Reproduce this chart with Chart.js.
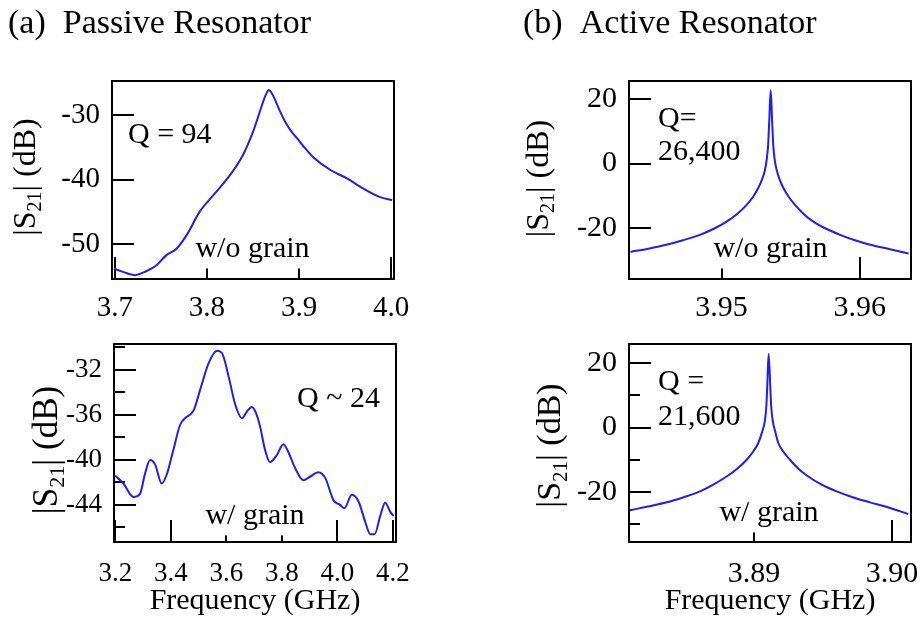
<!DOCTYPE html>
<html><head><meta charset="utf-8">
<script src="https://cdn.jsdelivr.net/npm/chart.js@4/dist/chart.umd.min.js"></script>
<style>
html,body{margin:0;padding:0;background:#fff;}
body{width:920px;height:623px;position:relative;overflow:hidden;}
canvas{position:absolute;}
</style></head><body>
<canvas id="cA" width="420" height="335" style="left:0;top:0"></canvas>
<canvas id="cB" width="420" height="335" style="left:500px;top:0"></canvas>
<canvas id="cC" width="420" height="288" style="left:0;top:335px"></canvas>
<canvas id="cD" width="420" height="288" style="left:500px;top:335px"></canvas>
<script>
// ---------- data ----------
// (a) passive resonator, w/o grain
const passiveNoGrainFreq = [3.699,3.709,3.722,3.734,3.745,3.756,3.767,3.778,3.792,3.807,3.825,3.839,3.850,3.858,3.862,3.865,3.867,3.869,3.872,3.876,3.880,3.886,3.892,3.898,3.907,3.916,3.934,3.952,3.970,3.988,4.001];
const passiveNoGrainDb   = [-53.8,-54.3,-54.8,-54.2,-53.3,-51.7,-50.7,-48.6,-45.0,-42.4,-39.3,-36.2,-32.6,-29.2,-27.5,-26.5,-26.1,-26.3,-27.0,-28.3,-29.6,-31.3,-32.6,-33.6,-35.2,-36.6,-38.5,-39.8,-41.4,-42.7,-43.2];
// (a) passive resonator, w/ grain
const passiveGrainFreq = [3.199,3.229,3.265,3.289,3.307,3.325,3.343,3.367,3.385,3.409,3.433,3.451,3.482,3.505,3.536,3.566,3.584,3.608,3.632,3.656,3.674,3.692,3.706,3.721,3.739,3.757,3.781,3.805,3.823,3.847,3.877,3.901,3.931,3.956,3.986,4.010,4.025,4.052,4.076,4.100,4.118,4.134,4.154,4.172,4.190,4.202];
const passiveGrainDb   = [-41.4,-42.1,-43.3,-43.0,-41.2,-40.0,-40.4,-42.1,-41.3,-39.1,-36.9,-36.3,-35.6,-33.8,-31.4,-30.3,-30.5,-32.6,-35.1,-36.3,-35.7,-35.3,-35.8,-37.0,-39.1,-40.2,-39.6,-38.6,-39.3,-40.7,-41.8,-41.5,-41.1,-41.6,-43.6,-44.0,-44.3,-43.1,-43.7,-45.5,-46.6,-46.6,-45.0,-43.8,-44.6,-45.0];
// (b) active resonator, w/o grain
const activeNoGrainFreq = [3.94341,3.94470,3.94601,3.94720,3.94843,3.94940,3.95036,3.95110,3.95181,3.95228,3.95265,3.95292,3.95314,3.95326,3.95336,3.95345,3.95355,3.95365,3.95374,3.95384,3.95398,3.95420,3.95447,3.95485,3.95531,3.95595,3.95664,3.95760,3.95857,3.95965,3.96075,3.96210,3.96352];
const activeNoGrainDb   = [-27.4,-26.4,-25.2,-23.8,-22.1,-20.3,-18.0,-15.7,-12.8,-10.3,-7.6,-5.0,-1.9,1.2,5.5,13.6,22.7,13.6,5.5,1.2,-1.9,-5.0,-7.6,-10.3,-12.8,-15.7,-18.0,-20.3,-22.1,-23.8,-25.2,-26.5,-27.9];
// (b) active resonator, w/ grain
const activeGrainFreq = [3.88096,3.88230,3.88367,3.88490,3.88609,3.88705,3.88802,3.88878,3.88947,3.88993,3.89031,3.89058,3.89080,3.89090,3.89096,3.89106,3.89118,3.89124,3.89135,3.89155,3.89176,3.89213,3.89261,3.89322,3.89393,3.89490,3.89599,3.89715,3.89841,3.89980,3.90118];
const activeGrainDb   = [-25.7,-24.5,-23.2,-21.6,-19.8,-17.7,-15.2,-12.8,-10.0,-7.5,-4.8,-1.5,2.4,7.0,12.7,22.8,12.7,7.0,2.4,-1.5,-4.8,-7.5,-10.0,-12.8,-15.2,-17.7,-19.8,-21.6,-23.2,-24.9,-26.8];

// tick values
const xTicksA = [3.7,3.8,3.9,4.0];
const yTicksA = [-50,-40,-30];
const xTicksC = [3.2,3.4,3.6,3.8,4.0,4.2];
const yTicksC = [-44,-40,-36,-32];
const yMinorC = [-46,-42,-38,-34,-30];
const xTicksB = [3.95,3.96];
const yTicksB = [-20,0,20];
const xTicksD = [3.89,3.90];
const yTicksD = [-20,0,20];
const yMinorD = [-30,-10,10];

// ---------- drawing ----------
const FONT = '"Liberation Serif","Times New Roman",serif';
const BLUE = 'rgb(30,30,240)';
Chart.defaults.font.family = FONT;
Chart.defaults.color = '#000';

function panelPlugin(cfg){
  return {
    id:'panel_'+cfg.id,
    beforeDatasetsDraw(chart){
      const ctx=chart.ctx, ca=chart.chartArea, xs=chart.scales.x, ys=chart.scales.y;
      ctx.save();
      ctx.strokeStyle='#000'; ctx.lineWidth=2; ctx.lineCap='butt';
      const seg=(a,b,c,d)=>{ctx.beginPath();ctx.moveTo(a,b);ctx.lineTo(c,d);ctx.stroke();};
      cfg.xTicks.forEach(v=>{const p=Math.round(xs.getPixelForValue(v));seg(p,ca.bottom,p,ca.bottom-22);});
      cfg.yTicks.forEach(v=>{const p=Math.round(ys.getPixelForValue(v));seg(ca.left,p,ca.left+22,p);});
      (cfg.yMinor||[]).forEach(v=>{const p=Math.round(ys.getPixelForValue(v));seg(ca.left,p,ca.left+11,p);});
      cfg.notes.forEach(n=>{
        ctx.font = n.size+'px '+FONT;
        ctx.textBaseline='alphabetic'; ctx.textAlign='left';
        const w=ctx.measureText(n.text).width;
        const x = n.center ? n.x - w/2 : n.x;
        ctx.fillStyle='#fff';
        ctx.fillRect(x-1, n.y-n.size*0.8, w+2, n.size*1.18);
        ctx.fillStyle='#000';
        ctx.fillText(n.text, x, n.y);
      });
      ctx.restore();
    },
    afterDatasetsDraw(chart){
      const ctx=chart.ctx, ca=chart.chartArea;
      ctx.save(); ctx.strokeStyle='#000'; ctx.lineWidth=2;
      ctx.strokeRect(ca.left, ca.top, ca.right-ca.left, ca.bottom-ca.top);
      ctx.restore();
    },
    afterDraw(chart){
      const ctx=chart.ctx;
      ctx.save();
      const F=cfg.yTitle.size, fs=Math.round(F*0.62);
      const parts=[{t:'|S',s:F,dy:0},{t:'21',s:fs,dy:F*0.2},{t:'| (dB)',s:F,dy:0}];
      let total=0;
      parts.forEach(p=>{ctx.font=p.s+'px '+FONT; p.w=ctx.measureText(p.t).width; total+=p.w;});
      ctx.translate(cfg.yTitle.cx + 0.235*F, cfg.yTitle.cy);
      ctx.rotate(-Math.PI/2);
      ctx.fillStyle='#000'; ctx.textBaseline='alphabetic'; ctx.textAlign='left';
      let x=-total/2;
      parts.forEach(p=>{ctx.font=p.s+'px '+FONT; ctx.fillText(p.t,x,p.dy); x+=p.w;});
      ctx.restore();
      if(cfg.title){
        ctx.save(); ctx.fillStyle='#000'; ctx.font=cfg.title.size+'px '+FONT;
        ctx.textBaseline='alphabetic'; ctx.textAlign='left';
        ctx.fillText(cfg.title.text, cfg.title.x, cfg.title.y);
        ctx.restore();
      }
    }
  };
}

function makePanel(cfg){
  const pts = cfg.freq.map((f,i)=>({x:f,y:cfg.db[i]}));
  return new Chart(document.getElementById(cfg.id), {
    type:'line',
    data:{datasets:[{data:pts, borderColor:BLUE, borderWidth:2, pointRadius:0, fill:false, cubicInterpolationMode:'monotone'}]},
    options:{
      responsive:false, animation:false, devicePixelRatio:1,
      layout:{padding:cfg.pad},
      plugins:{legend:{display:false}, tooltip:{enabled:false}, title:{display:false}},
      scales:{
        x:{type:'linear', min:cfg.xMin, max:cfg.xMax,
           grid:{display:false, drawTicks:false}, border:{display:false},
           afterBuildTicks:s=>{s.ticks=cfg.xTicks.map(v=>({value:v}));},
           afterFit:s=>{s.height=cfg.xH; s.paddingLeft=0; s.paddingRight=0;},
           ticks:{autoSkip:false, maxRotation:0, minRotation:0, color:'#000', padding:cfg.xPad,
                  font:{size:cfg.xFont, family:FONT}, callback:v=>Number(v).toFixed(cfg.xDec)},
           title:{display:!!cfg.xTitle, text:'Frequency (GHz)', color:'#000', font:{size:30,family:FONT}, padding:{top:0,bottom:4}}
        },
        y:{type:'linear', min:cfg.yMin, max:cfg.yMax,
           grid:{display:false, drawTicks:false}, border:{display:false},
           afterBuildTicks:s=>{s.ticks=cfg.yTicks.map(v=>({value:v}));},
           afterFit:s=>{s.width=cfg.yW; s.paddingTop=0; s.paddingBottom=0;},
           ticks:{autoSkip:false, color:'#000', padding:12, font:{size:cfg.yFont, family:FONT},
                  callback:v=>Number(v).toFixed(0)}
        }
      }
    },
    plugins:[panelPlugin(cfg)]
  });
}

makePanel({id:'cA', freq:passiveNoGrainFreq, db:passiveNoGrainDb,
  xMin:3.697, xMax:4.003, yMin:-55.4, yMax:-24.7, xTicks:xTicksA, yTicks:yTicksA, xDec:1,
  pad:{top:81,right:26,left:0,bottom:0}, yW:112, xH:56, xPad:11.6, xFont:29, yFont:29, xTitle:false,
  notes:[{text:'Q = 94',x:128,y:143,size:30},{text:'w/o grain',x:252.5,y:257,size:30,center:true}],
  yTitle:{cx:27.5,cy:177,size:32},
  title:{text:'(a)  Passive Resonator',x:8,y:33,size:34}});

makePanel({id:'cB', freq:activeNoGrainFreq, db:activeNoGrainDb,
  xMin:3.9433, xMax:3.9637, yMin:-35.8, yMax:25.6, xTicks:xTicksB, yTicks:yTicksB, xDec:2,
  pad:{top:81,right:9,left:0,bottom:0}, yW:129, xH:56, xPad:11, xFont:30, yFont:30, xTitle:false,
  notes:[{text:'Q=',x:158,y:127,size:30},{text:'26,400',x:158,y:160,size:30},{text:'w/o grain',x:270.5,y:257,size:30,center:true}],
  yTitle:{cx:40.5,cy:178.5,size:32},
  title:{text:'(b)  Active Resonator',x:23,y:33,size:34}});

makePanel({id:'cC', freq:passiveGrainFreq, db:passiveGrainDb,
  xMin:3.195, xMax:4.211, yMin:-47.3, yMax:-29.7, xTicks:xTicksC, yTicks:yTicksC, yMinor:yMinorC, xDec:1,
  pad:{top:9,right:24,left:0,bottom:0}, yW:114, xH:81, xPad:15.8, xFont:27, yFont:27, xTitle:true,
  notes:[{text:'Q ~ 24',x:297,y:72,size:30},{text:'w/ grain',x:255,y:189,size:30,center:true}],
  yTitle:{cx:49,cy:115,size:35}});

makePanel({id:'cD', freq:activeGrainFreq, db:activeGrainDb,
  xMin:3.88094, xMax:3.90138, yMin:-35.5, yMax:25.9, xTicks:xTicksD, yTicks:yTicksD, yMinor:yMinorD, xDec:2,
  pad:{top:9,right:9,left:0,bottom:0}, yW:129, xH:81, xPad:14, xFont:30, yFont:30, xTitle:true,
  notes:[{text:'Q =',x:158,y:55,size:30},{text:'21,600',x:158,y:90,size:30},{text:'w/ grain',x:269,y:186,size:30,center:true}],
  yTitle:{cx:52.5,cy:110.5,size:34}});
</script>
</body></html>
